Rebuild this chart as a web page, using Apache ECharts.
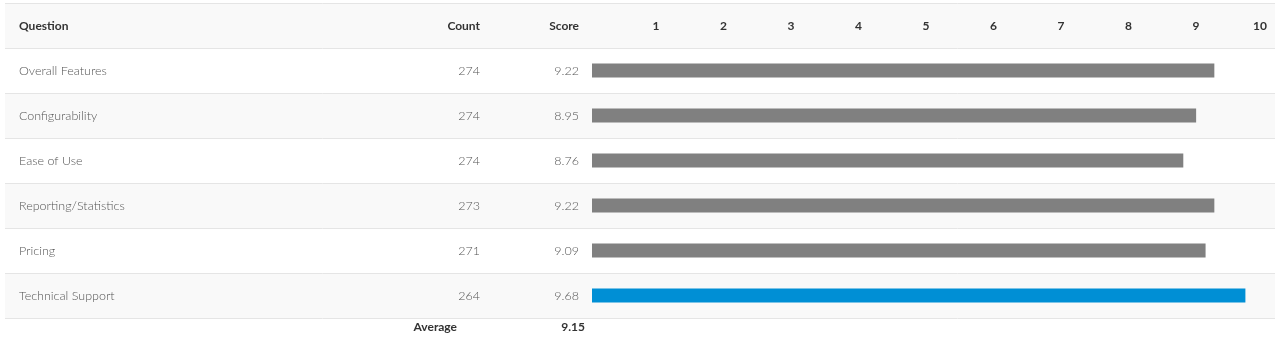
<!DOCTYPE html>
<html>
<head>
<meta charset="utf-8">
<script src="https://cdn.jsdelivr.net/npm/echarts@6/dist/echarts.min.js"></script>
<style>
  html, body { margin: 0; padding: 0; background: #fff; }
  #chart { width: 1283px; height: 351px; }
</style>
</head>
<body>
<div id="chart"></div>
<script>
const questions = ['Overall Features', 'Configurability', 'Ease of Use', 'Reporting/Statistics', 'Pricing', 'Technical Support'];
const counts = [274, 274, 274, 273, 271, 264];
const scores = [9.22, 8.95, 8.76, 9.22, 9.09, 9.68];
const highlight = [false, false, false, false, false, true];
const headers = ['Question', 'Count', 'Score'];

const FONT = 'Lato';
const GRAY = '#808080';
const BLUE = '#008fd5';

const average = (scores.reduce((a, b) => a + b, 0) / scores.length).toFixed(2);

// table rows = header + questions, text columns built as rich label
const rowNames = [headers[0]].concat(questions);

function rowLabel(value, idx) {
  if (idx === 0) {
    return `{hq|${headers[0]}}{hc|${headers[1]}}{hs|${headers[2]}}`;
  }
  const i = idx - 1;
  return `{q|${questions[i]}}{c|${counts[i]}}{s|${scores[i].toFixed(2)}}`;
}

const cellBase = { fontFamily: FONT, fontSize: 12.5, color: '#555', fontWeight: 300 };
const headBase = { fontFamily: FONT, fontSize: 12, color: '#333', fontWeight: 'bold', padding: [2, 0, 0, 0] };

const chart = echarts.init(document.getElementById('chart'));
chart.setOption({
  animation: false,
  grid: [
    // full table background
    { left: 5, right: 8, top: 3, bottom: 33 },
    // bar area
    { left: 592, right: 16, top: 48, bottom: 33 },
  ],
  xAxis: [
    { gridIndex: 0, type: 'value', show: false, min: 0, max: 1 },
    {
      gridIndex: 1,
      type: 'value',
      position: 'top',
      min: 0,
      max: 10,
      interval: 1,
      axisLine: { show: false },
      axisTick: { show: false },
      splitLine: { show: false },
      axisLabel: {
        showMinLabel: false,
        margin: 16,
        align: 'right',
        fontFamily: FONT,
        fontSize: 12,
        fontWeight: 'bold',
        color: '#333',
      },
    },
  ],
  yAxis: [
    {
      gridIndex: 0,
      type: 'category',
      inverse: true,
      data: rowNames,
      axisLine: { show: false },
      axisTick: { show: false },
      splitLine: { show: true, lineStyle: { color: '#e5e5e5', width: 1 } },
      splitArea: { show: true, areaStyle: { color: ['#f9f9f9', '#ffffff'] } },
      axisLabel: {
        inside: true,
        margin: 14,
        align: 'left',
        formatter: rowLabel,
        rich: {
          q: Object.assign({ width: 401, align: 'left' }, cellBase),
          c: Object.assign({ width: 60, align: 'right' }, cellBase),
          s: Object.assign({ width: 99, align: 'right' }, cellBase),
          hq: Object.assign({ width: 401, align: 'left' }, headBase),
          hc: Object.assign({ width: 60, align: 'right' }, headBase),
          hs: Object.assign({ width: 99, align: 'right' }, headBase),
        },
      },
    },
    {
      gridIndex: 1,
      type: 'category',
      inverse: true,
      data: questions,
      show: false,
    },
  ],
  series: [
    {
      type: 'bar',
      xAxisIndex: 1,
      yAxisIndex: 1,
      barWidth: 14,
      data: scores.map((v, i) => ({
        value: v,
        itemStyle: { color: highlight[i] ? BLUE : GRAY },
      })),
    },
  ],
  graphic: [
    {
      type: 'text',
      right: 1283 - 457,
      top: 321,
      style: { text: 'Average', font: 'bold 12px ' + FONT, fill: '#333', textAlign: 'right' },
    },
    {
      type: 'text',
      right: 1283 - 585,
      top: 321,
      style: { text: average, font: 'bold 12px ' + FONT, fill: '#333', textAlign: 'right' },
    },
  ],
});
</script>
</body>
</html>
